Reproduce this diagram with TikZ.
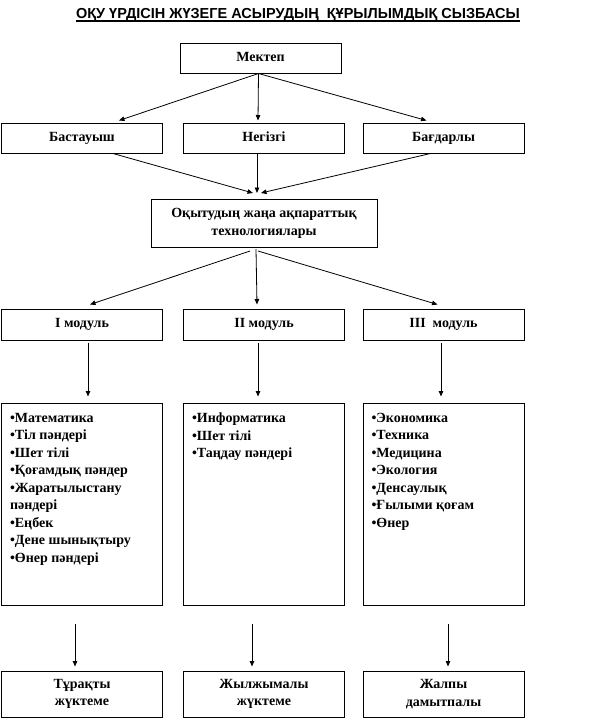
\documentclass[tikz,border=0pt]{standalone}
\usepackage{fontspec}
\setmainfont{Liberation Serif}
\newfontfamily\headfont{Liberation Sans}
\usepackage{xcolor}
\usepackage{tikz}
\usetikzlibrary{arrows.meta,calc,positioning}
\definecolor{SchemeLine}{HTML}{000000}
\definecolor{SchemeText}{HTML}{000000}
\tikzset{
  >=Latex,
  levelbox/.style={draw=SchemeLine,line width=1pt,fill=white,align=center,
    inner sep=2pt,minimum height=30pt,minimum width=161pt,
    font=\fontsize{14}{17.5}\selectfont\bfseries,text=SchemeText},
  onelinebox/.style={levelbox,text height=9.5pt,text depth=3pt},
  listbox/.style={levelbox,inner xsep=8.5pt,inner ysep=5pt,minimum height=202pt,align=left},
  flow/.style={-{Triangle[length=5.5pt,width=4.5pt]},line width=0.8pt,draw=SchemeLine},
  heading/.style={font=\headfont\fontsize{14.5}{17}\selectfont\bfseries,text=SchemeText,inner sep=0pt},
  underrule/.style={line width=1.3pt,draw=SchemeLine}
}
\newcommand{\subjlist}[1]{\parbox[c][182pt][t]{144pt}{\raggedright #1}}

\begin{document}
\begin{tikzpicture}[x=1pt,y=1pt]
  \useasboundingbox (0,0) rectangle (605,-720);

  \node[heading,anchor=base] (title) at (298,-18.5) {ОҚУ ҮРДІСІН ЖҮЗЕГЕ АСЫРУДЫҢ\ \ ҚҰРЫЛЫМДЫҚ СЫЗБАСЫ};
  \draw[underrule] ([yshift=-2.5]title.base west) -- ([yshift=-2.5]title.base east);

  \node[onelinebox] (mektep) at (260.5,-58) {Мектеп};

  \node[onelinebox] (bastauysh) at (82,-138) {Бастауыш};
  \node[onelinebox] (negizgi) at (264,-138) {Негізгі};
  \node[onelinebox] (bagdarly) at (443.5,-138) {Бағдарлы};

  \node[levelbox,minimum width=226pt,minimum height=48pt] (tech) at (264,-223.5) {Оқытудың жаңа ақпараттық\\технологиялары};

  \node[onelinebox,minimum height=31pt] (modone) at (82,-324.5) {I модуль};
  \node[onelinebox,minimum height=31pt] (modtwo) at (264,-324.5) {II модуль};
  \node[onelinebox,minimum height=31pt] (modthree) at (443.5,-324.5) {III\ \ модуль};

  \node[listbox] (listone) at (82,-504) {\subjlist{•Математика\\•Тіл пәндері\\•Шет тілі\\•Қоғамдық пәндер\\•Жаратылыстану\\пәндері\\•Еңбек\\•Дене шынықтыру\\•Өнер пәндері}};
  \node[listbox] (listtwo) at (264,-504) {\subjlist{•Информатика\\•Шет тілі\\•Таңдау пәндері}};
  \node[listbox] (listthree) at (443.5,-504) {\subjlist{•Экономика\\•Техника\\•Медицина\\•Экология\\•Денсаулық\\•Ғылыми қоғам\\•Өнер}};

  \node[levelbox,minimum height=46pt] (loadfix) at (82,-694) {Тұрақты\\жүктеме};
  \node[levelbox,minimum height=46pt] (loadvar) at (264,-694) {Жылжымалы\\жүктеме};
  \node[levelbox,minimum height=46pt] (general) at (443.5,-694) {Жалпы\\дамытпалы};

  \draw[flow] ([xshift=-2]mektep.south) -- ([xshift=37,yshift=2]bastauysh.north);
  \draw[flow] ([xshift=-2]mektep.south) -- ([xshift=-6,yshift=2]negizgi.north);
  \draw[flow] ([xshift=-2]mektep.south) -- ([xshift=-17,yshift=2]bagdarly.north);

  \draw[flow] ([xshift=31]bastauysh.south) -- ([xshift=-11,yshift=6]tech.north);
  \draw[flow] ([xshift=-7]negizgi.south) -- ([xshift=-7,yshift=6]tech.north);
  \draw[flow] ([xshift=-13]bagdarly.south) -- ([xshift=-3,yshift=6]tech.north);

  \draw[flow] ([xshift=-14,yshift=-3]tech.south) -- ([xshift=8,yshift=4]modone.north);
  \draw[flow] ([xshift=-8,yshift=-1]tech.south) -- ([xshift=-7,yshift=4]modtwo.north);
  \draw[flow] ([xshift=-6,yshift=-3]tech.south) -- ([xshift=-6,yshift=4]modthree.north);

  \draw[flow] ([xshift=6,yshift=-2]modone.south) -- ([xshift=6,yshift=6]listone.north);
  \draw[flow] ([xshift=-6,yshift=-2]modtwo.south) -- ([xshift=-6,yshift=6]listtwo.north);
  \draw[flow] ([xshift=-2.5,yshift=-2]modthree.south) -- ([xshift=-2.5,yshift=6]listthree.north);

  \draw[flow] ([xshift=-7,yshift=-18]listone.south) -- ([xshift=-7,yshift=4]loadfix.north);
  \draw[flow] ([xshift=-12,yshift=-18]listtwo.south) -- ([xshift=-12,yshift=4]loadvar.north);
  \draw[flow] ([xshift=4.5,yshift=-18]listthree.south) -- ([xshift=4.5,yshift=4]general.north);
\end{tikzpicture}
\end{document}
